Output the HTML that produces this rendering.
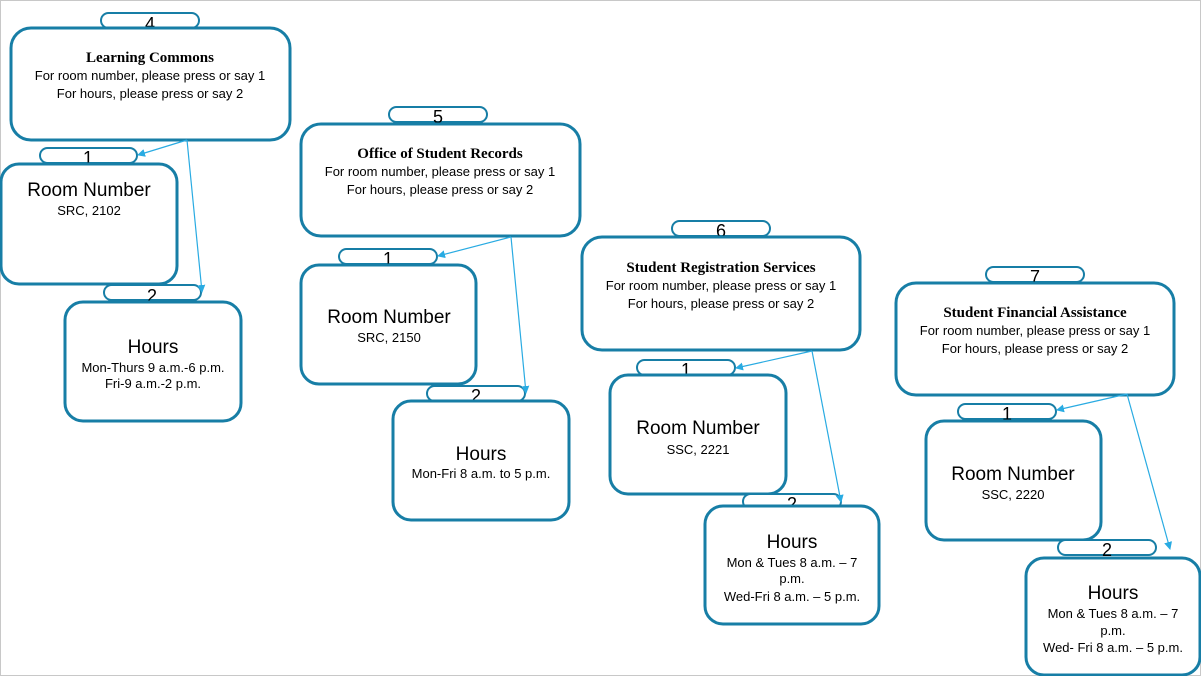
<!DOCTYPE html>
<html><head><meta charset="utf-8"><style>
html,body{margin:0;padding:0;background:#fff}
svg{display:block}
.b{fill:#fff;stroke:#177ea6;stroke-width:3}
.p{fill:#fff;stroke:#177ea6;stroke-width:2}
.t{font-family:"Liberation Serif",serif;font-weight:bold;font-size:15px;text-anchor:middle;fill:#000}
.s{font-family:"Liberation Sans",sans-serif;font-size:13px;text-anchor:middle;fill:#000}
.h{font-family:"Liberation Sans",sans-serif;font-size:19px;text-anchor:middle;fill:#000}
.n{font-family:"Liberation Sans",sans-serif;font-size:18px;text-anchor:middle;fill:#000}
.c{stroke:#29abe2;stroke-width:1.2;fill:none}
</style></head><body>
<svg width="1201" height="676" viewBox="0 0 1201 676" xmlns="http://www.w3.org/2000/svg">
<defs><marker id="a" markerWidth="8" markerHeight="8" refX="7" refY="4" orient="auto" markerUnits="userSpaceOnUse"><path d="M0,0 L8,4 L0,8 z" fill="#29abe2"/></marker></defs>
<rect x="0.5" y="0.5" width="1200" height="675" fill="none" stroke="#c8c8c8"/>

<!-- Group 1 -->
<rect class="p" x="101" y="13" width="98" height="15" rx="7.5"/><text class="n" x="150" y="30">4</text>
<rect class="b" x="11" y="28" width="279" height="112" rx="20"/>
<text class="t" x="150" y="62">Learning Commons</text>
<text class="s" x="150" y="80">For room number, please press or say 1</text>
<text class="s" x="150" y="98">For hours, please press or say 2</text>
<rect class="p" x="40" y="148" width="97" height="15" rx="7.5"/><text class="n" x="88" y="164">1</text>
<rect class="b" x="1" y="164" width="176" height="120" rx="18"/>
<text class="h" x="89" y="196">Room Number</text><text class="s" x="89" y="215">SRC, 2102</text>
<rect class="p" x="104" y="285" width="97" height="15" rx="7.5"/><text class="n" x="152" y="302">2</text>
<rect class="b" x="65" y="302" width="176" height="119" rx="18"/>
<text class="h" x="153" y="353">Hours</text>
<text class="s" x="153" y="372">Mon-Thurs 9 a.m.-6 p.m.</text>
<text class="s" x="153" y="388">Fri-9 a.m.-2 p.m.</text>
<line class="c" x1="187" y1="140" x2="138" y2="155" marker-end="url(#a)"/>
<line class="c" x1="187" y1="140" x2="202" y2="292" marker-end="url(#a)"/>

<!-- Group 2 -->
<rect class="p" x="389" y="107" width="98" height="15" rx="7.5"/><text class="n" x="438" y="123">5</text>
<rect class="b" x="301" y="124" width="279" height="112" rx="20"/>
<text class="t" x="440" y="158">Office of Student Records</text>
<text class="s" x="440" y="176">For room number, please press or say 1</text>
<text class="s" x="440" y="194">For hours, please press or say 2</text>
<rect class="p" x="339" y="249" width="98" height="15" rx="7.5"/><text class="n" x="388" y="265">1</text>
<rect class="b" x="301" y="265" width="175" height="119" rx="18"/>
<text class="h" x="389" y="323">Room Number</text><text class="s" x="389" y="342">SRC, 2150</text>
<rect class="p" x="427" y="386" width="98" height="15" rx="7.5"/><text class="n" x="476" y="402">2</text>
<rect class="b" x="393" y="401" width="176" height="119" rx="18"/>
<text class="h" x="481" y="460">Hours</text>
<text class="s" x="481" y="478">Mon-Fri 8 a.m. to 5 p.m.</text>
<line class="c" x1="511" y1="237" x2="438" y2="256" marker-end="url(#a)"/>
<line class="c" x1="511" y1="237" x2="526" y2="393" marker-end="url(#a)"/>

<!-- Group 3 -->
<rect class="p" x="672" y="221" width="98" height="15" rx="7.5"/><text class="n" x="721" y="237">6</text>
<rect class="b" x="582" y="237" width="278" height="113" rx="20"/>
<text class="t" x="721" y="272">Student Registration Services</text>
<text class="s" x="721" y="290">For room number, please press or say 1</text>
<text class="s" x="721" y="308">For hours, please press or say 2</text>
<rect class="p" x="637" y="360" width="98" height="15" rx="7.5"/><text class="n" x="686" y="376">1</text>
<rect class="b" x="610" y="375" width="176" height="119" rx="18"/>
<text class="h" x="698" y="434">Room Number</text><text class="s" x="698" y="454">SSC, 2221</text>
<rect class="p" x="743" y="494" width="98" height="15" rx="7.5"/><text class="n" x="792" y="510">2</text>
<rect class="b" x="705" y="506" width="174" height="118" rx="18"/>
<text class="h" x="792" y="548">Hours</text>
<text class="s" x="792" y="567">Mon &amp; Tues 8 a.m. – 7</text>
<text class="s" x="792" y="583">p.m.</text>
<text class="s" x="792" y="601">Wed-Fri 8 a.m. – 5 p.m.</text>
<line class="c" x1="812" y1="351" x2="736" y2="368" marker-end="url(#a)"/>
<line class="c" x1="812" y1="351" x2="841" y2="502" marker-end="url(#a)"/>

<!-- Group 4 -->
<rect class="p" x="986" y="267" width="98" height="15" rx="7.5"/><text class="n" x="1035" y="283">7</text>
<rect class="b" x="896" y="283" width="278" height="112" rx="20"/>
<text class="t" x="1035" y="317">Student Financial Assistance</text>
<text class="s" x="1035" y="335">For room number, please press or say 1</text>
<text class="s" x="1035" y="353">For hours, please press or say 2</text>
<rect class="p" x="958" y="404" width="98" height="15" rx="7.5"/><text class="n" x="1007" y="420">1</text>
<rect class="b" x="926" y="421" width="175" height="119" rx="18"/>
<text class="h" x="1013" y="480">Room Number</text><text class="s" x="1013" y="499">SSC, 2220</text>
<rect class="p" x="1058" y="540" width="98" height="15" rx="7.5"/><text class="n" x="1107" y="556">2</text>
<rect class="b" x="1026" y="558" width="174" height="117" rx="18"/>
<text class="h" x="1113" y="599">Hours</text>
<text class="s" x="1113" y="618">Mon &amp; Tues 8 a.m. – 7</text>
<text class="s" x="1113" y="635">p.m.</text>
<text class="s" x="1113" y="652">Wed- Fri 8 a.m. – 5 p.m.</text>
<line class="c" x1="1127" y1="394" x2="1057" y2="410" marker-end="url(#a)"/>
<line class="c" x1="1127" y1="394" x2="1170" y2="549" marker-end="url(#a)"/>
</svg>
</body></html>
